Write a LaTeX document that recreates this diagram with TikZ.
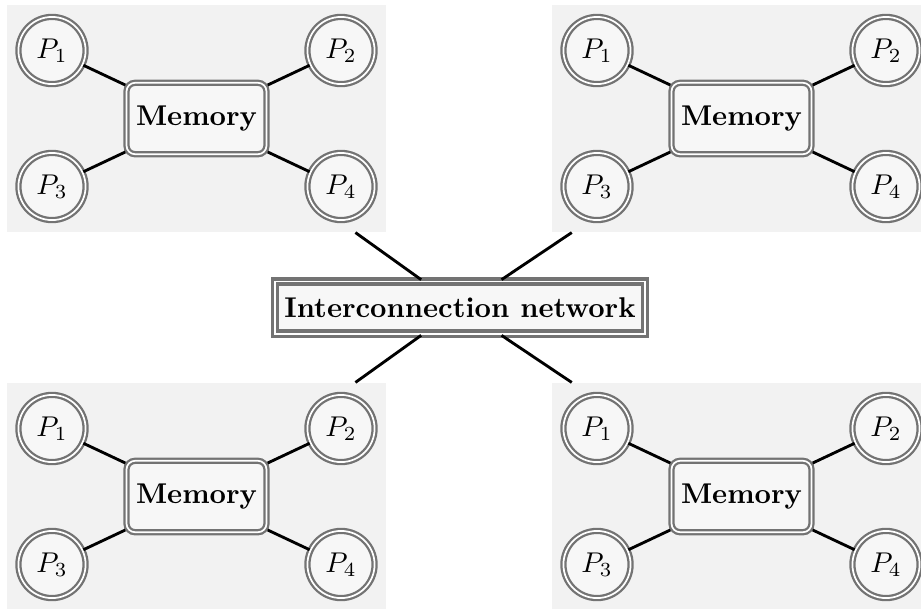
\documentclass[tikz,border=0pt]{standalone}
\usepackage{tikz}
\usetikzlibrary{calc}
\tikzset{
    panel/.style={fill=black!5, minimum width=132.65pt, minimum height=79.45pt, inner sep=0pt},
    proc/.style={draw=black!55, double, thick, circle, fill=black!3, minimum size=23.5pt, inner sep=0pt},
    mem/.style={draw=black!55, double, thick, rounded corners=3pt, fill=black!3, minimum height=25pt, font=\bfseries},
    net/.style={draw=black!55, double, very thick, fill=black!3, minimum height=18.3pt, font=\bfseries},
    link/.style={line width=1pt}}

\begin{document}
\begin{tikzpicture}[x=0.35pt, y=-0.35pt]
\useasboundingbox (0,0) rectangle (921,608);

%background panels
\node[panel] (panel1) at (196.5,118.5) {};
\node[panel] (panel2) at (741.5,118.5) {};
\node[panel] (panel3) at (196.5,496.5) {};
\node[panel] (panel4) at (741.5,496.5) {};

%network
\node[net] (net) at (460,307.5) {Interconnection network};
\draw [link](net)--(panel1);
\draw [link](net)--(panel2);
\draw [link](net)--(panel3);
\draw [link](net)--(panel4);

%first panel
\node[mem] (mem1) at (196.5,118.5) {Memory};
\node[proc] (pr11) at (52,50.5) {$P_1$};
\node[proc] (pr12) at (341,50.5) {$P_2$};
\node[proc] (pr13) at (52,186.5) {$P_3$};
\node[proc] (pr14) at (341,186.5) {$P_4$};
\draw [link](mem1)--(pr11);
\draw [link](mem1)--(pr12);
\draw [link](mem1)--(pr13);
\draw [link](mem1)--(pr14);

%second panel
\node[mem] (mem2) at (741.5,118.5) {Memory};
\node[proc] (pr21) at (597,50.5) {$P_1$};
\node[proc] (pr22) at (886,50.5) {$P_2$};
\node[proc] (pr23) at (597,186.5) {$P_3$};
\node[proc] (pr24) at (886,186.5) {$P_4$};
\draw [link](mem2)--(pr21);
\draw [link](mem2)--(pr22);
\draw [link](mem2)--(pr23);
\draw [link](mem2)--(pr24);

%third panel
\node[mem] (mem3) at (196.5,496.5) {Memory};
\node[proc] (pr31) at (52,428.5) {$P_1$};
\node[proc] (pr32) at (341,428.5) {$P_2$};
\node[proc] (pr33) at (52,564.5) {$P_3$};
\node[proc] (pr34) at (341,564.5) {$P_4$};
\draw [link](mem3)--(pr31);
\draw [link](mem3)--(pr32);
\draw [link](mem3)--(pr33);
\draw [link](mem3)--(pr34);

%fourth panel
\node[mem] (mem4) at (741.5,496.5) {Memory};
\node[proc] (pr41) at (597,428.5) {$P_1$};
\node[proc] (pr42) at (886,428.5) {$P_2$};
\node[proc] (pr43) at (597,564.5) {$P_3$};
\node[proc] (pr44) at (886,564.5) {$P_4$};
\draw [link](mem4)--(pr41);
\draw [link](mem4)--(pr42);
\draw [link](mem4)--(pr43);
\draw [link](mem4)--(pr44);
\end{tikzpicture}
\end{document}
